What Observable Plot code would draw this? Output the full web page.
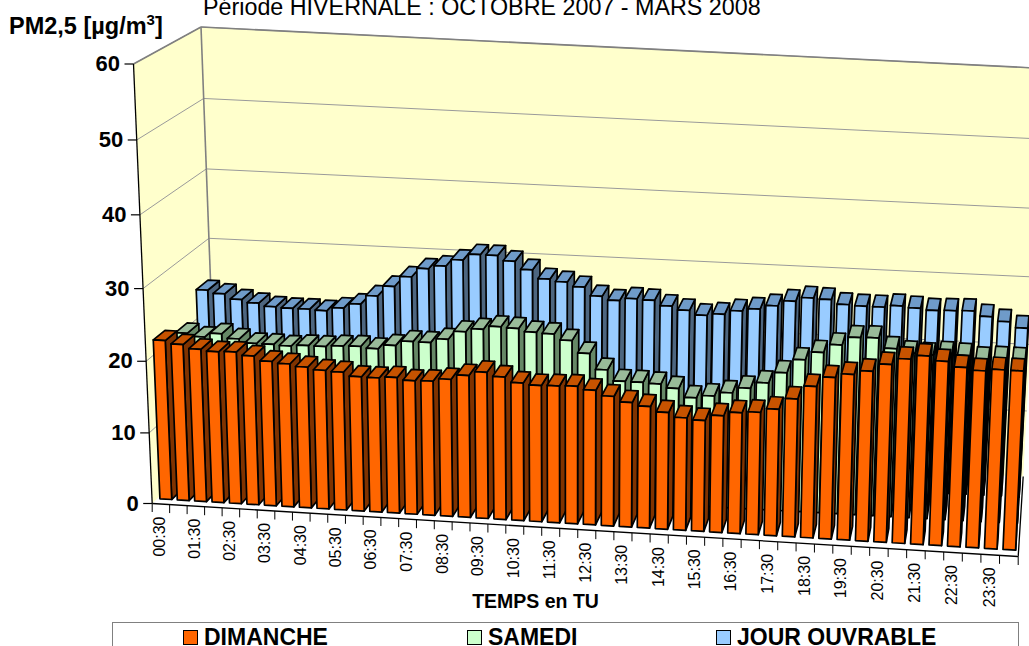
<!DOCTYPE html>
<html><head><meta charset="utf-8">
<script src="https://cdn.jsdelivr.net/npm/d3@7"></script>
<script src="https://cdn.jsdelivr.net/npm/@observablehq/plot@0.6"></script>
<style>
html,body{margin:0;padding:0;background:#fff;overflow:hidden;width:1029px;height:646px;font-family:"Liberation Sans",Arial,sans-serif}
#wrap{position:relative;width:1029px;height:646px;overflow:hidden}
#title{position:absolute;left:203px;top:-6.5px;font-size:23.3px;white-space:nowrap;color:#000}
#ylab{position:absolute;left:9px;top:13px;font-size:23.5px;font-weight:bold;white-space:nowrap;color:#000}
#ylab sup{font-size:15px;line-height:0}
#legend{position:absolute;left:112px;top:622px;width:907px;height:40px;border:1.5px solid #808080;box-sizing:border-box;background:#fff}
.sw{position:absolute;top:7px;width:13px;height:13px;border:1.3px solid #000}
.lt{position:absolute;top:5.5px;line-height:17px;font-size:23px;font-weight:bold;white-space:nowrap;color:#000}
</style></head><body>
<div id="wrap">
<div id="chart"></div>
<div id="title">Période HIVERNALE : OCTOBRE 2007 - MARS 2008</div>
<div id="ylab">PM2,5 [µg/m<sup>3</sup>]</div>
<div id="legend">
<span class="sw" style="left:70px;background:#FF6600"></span><span class="lt" style="left:91px">DIMANCHE</span>
<span class="sw" style="left:354px;background:#CCFFCC"></span><span class="lt" style="left:375px">SAMEDI</span>
<span class="sw" style="left:603px;background:#99CCFF"></span><span class="lt" style="left:624px">JOUR OUVRABLE</span>
</div>
</div>
<script>
const dimanche=[22.4,22.0,21.5,21.3,21.4,21.0,20.4,20.2,19.9,19.6,19.5,19.0,19.0,19.2,18.9,19.0,19.4,20.1,20.7,20.2,19.5,19.3,19.4,19.5,19.1,18.4,17.7,17.3,16.6,16.0,15.8,16.6,17.2,17.4,18.0,19.6,21.5,22.9,23.5,24.1,25.2,26.1,26.7,26.1,25.4,25.1,25.4,25.4];
const samedi=[20.9,20.5,21.1,20.5,20.0,20.0,19.9,20.1,20.1,20.3,20.4,20.2,20.8,21.5,21.5,22.1,23.3,23.8,24.3,24.2,23.8,23.7,22.9,21.2,19.0,17.5,17.5,17.4,16.9,15.7,16.1,16.7,17.5,18.4,20.0,22.0,23.2,24.4,25.6,25.7,24.3,23.8,23.7,24.0,23.9,23.5,23.7,23.7];
const ouvrable=[24.5,24.1,23.4,23.0,22.6,22.5,22.5,22.4,22.9,23.6,24.9,26.4,27.9,29.2,29.7,30.7,31.6,31.6,30.9,29.8,28.6,28.3,27.7,26.5,26.0,26.4,26.3,25.6,25.1,24.5,24.8,25.4,25.8,26.4,27.2,27.8,27.7,27.1,27.0,27.0,27.3,27.1,26.9,27.0,27.1,26.4,25.8,25.0];
const timeLabels=["00:30","01:30","02:30","03:30","04:30","05:30","06:30","07:30","08:30","09:30","10:30","11:30","12:30","13:30","14:30","15:30","16:30","17:30","18:30","19:30","20:30","21:30","22:30","23:30"];
const yTicks=[0,10,20,30,40,50,60];
const rows=[
 {values:ouvrable,row:2,front:"#99CCFF",top:"#6F9BC9",side:"#4D6680"},
 {values:samedi,row:1,front:"#CCFFCC",top:"#99BB99",side:"#668866"},
 {values:dimanche,row:0,front:"#FF6600",top:"#C75300",side:"#803300"}
];
const N=48, VMAX=60;
// corners of the 3D box on the page: [depth][level][side]
const corners=[
 [[[151.7,503],[1017.7,556]],[[133,63.5],[1037,120]]],
 [[[216,440],[1022.7,476]],[[200.5,26.5],[1045,68]]]
];
const warp=(s,c)=>s/(s+(1-s)*c);
const lerp=(a,b,t)=>a+(b-a)*t;
function proj(slot,v,w){
  const u=warp(slot/N,1.035), t=warp(v/VMAX,1.045);
  const p=k=>{
    const a=lerp(corners[0][0][0][k],corners[0][0][1][k],u), b=lerp(corners[0][1][0][k],corners[0][1][1][k],u);
    const c=lerp(corners[1][0][0][k],corners[1][0][1][k],u), d=lerp(corners[1][1][0][k],corners[1][1][1][k],u);
    return lerp(lerp(a,b,t),lerp(c,d,t),w);
  };
  return [p(0),p(1)];
}
const polys=[]; let pid=0;
function poly(pts,fill){const id=pid++;pts.forEach(p=>polys.push({id,fill,x:p[0],y:p[1]}));}
for(const r of rows){
  const w0=r.row/3+0.077,w1=w0+0.18;
  r.values.forEach((v,i)=>{
    const a=i+0.16,b=i+0.84;
    poly([proj(b,0,w0),proj(b,0,w1),proj(b,v,w1),proj(b,v,w0)],r.side);
    poly([proj(a,v,w0),proj(b,v,w0),proj(b,v,w1),proj(a,v,w1)],r.top);
    poly([proj(a,0,w0),proj(b,0,w0),proj(b,v,w0),proj(a,v,w0)],r.front);
  });
}
const seg=(a,b)=>({x1:a[0],y1:a[1],x2:b[0],y2:b[1]});
const wall=[];
[[ [0,0,0],[0,0,1],[0,VMAX,1],[0,VMAX,0] ],[ [0,0,1],[N,0,1],[N,VMAX,1],[0,VMAX,1] ]].forEach((q,k)=>{
  q.forEach(c=>{const p=proj(...c);wall.push({id:k,x:p[0],y:p[1]});});
});
const grid=yTicks.filter(v=>v>0).flatMap(v=>[seg(proj(0,v,0),proj(0,v,1)),seg(proj(0,v,1),proj(N,v,1))]);
const tick=(v)=>{const p=proj(0,v,0);return {x1:p[0],y1:p[1],x2:p[0]-9,y2:p[1],v,x:p[0]-13.5,y:p[1]};};
const xticks=d3.range(N+1).map(i=>{const p=proj(i,0,0);return {x1:p[0],y1:p[1],x2:p[0],y2:p[1]+8.5};});
const xlabels=timeLabels.map((label,k)=>{const p=proj(2*k+0.5,0,0);return {label,x:p[0]-0.8,y:p[1]+12.5};});
const chart=Plot.plot({
  width:1029,height:622,margin:0,
  x:{domain:[0,1029],range:[0,1029],axis:null},
  y:{domain:[0,622],range:[0,622],axis:null},
  color:{type:"identity"},
  marks:[
    Plot.line(wall,{x:"x",y:"y",z:"id",fill:"#FFFFCC",stroke:"none",curve:"linear-closed"}),
    Plot.link(grid,{x1:"x1",y1:"y1",x2:"x2",y2:"y2",stroke:"#9a9a9a",strokeWidth:1}),
    Plot.link([seg(proj(0,0,1),proj(0,VMAX,1)),seg(proj(0,VMAX,0),proj(0,VMAX,1)),seg(proj(0,VMAX,1),proj(N,VMAX,1))],{x1:"x1",y1:"y1",x2:"x2",y2:"y2",stroke:"#808080",strokeWidth:1.6}),
    Plot.line(polys,{x:"x",y:"y",z:"id",fill:"fill",stroke:"#000",strokeWidth:1.7,strokeLinejoin:"round",curve:"linear-closed"}),
    Plot.link([seg(proj(0,0,0),proj(0,VMAX,0)),seg(proj(0,0,0),proj(N,0,0)),seg(proj(N,0,0),proj(N,0,1))],{x1:"x1",y1:"y1",x2:"x2",y2:"y2",stroke:"#000",strokeWidth:1.3}),
    Plot.link(yTicks.map(tick),{x1:"x1",y1:"y1",x2:"x2",y2:"y2",stroke:"#000",strokeWidth:1.2}),
    Plot.link(xticks,{x1:"x1",y1:"y1",x2:"x2",y2:"y2",stroke:"#000",strokeWidth:1}),
    Plot.text(yTicks.map(tick),{x:"x",y:"y",text:d=>String(d.v),textAnchor:"end",fontSize:22,fontWeight:"bold",fontFamily:"Liberation Sans",fill:"#000"}),
    Plot.text(xlabels,{x:"x",y:"y",text:"label",rotate:-90,textAnchor:"end",fontSize:16,fontFamily:"Liberation Sans",fill:"#000"}),
    Plot.text(["TEMPS en TU"],{x:()=>535,y:()=>601,text:d=>d,fontSize:19.5,fontWeight:"bold",fontFamily:"Liberation Sans",fill:"#000"})
  ]
});
chart.style.display="block";chart.style.overflow="hidden";
document.getElementById("chart").appendChild(chart);
</script>
</body></html>
